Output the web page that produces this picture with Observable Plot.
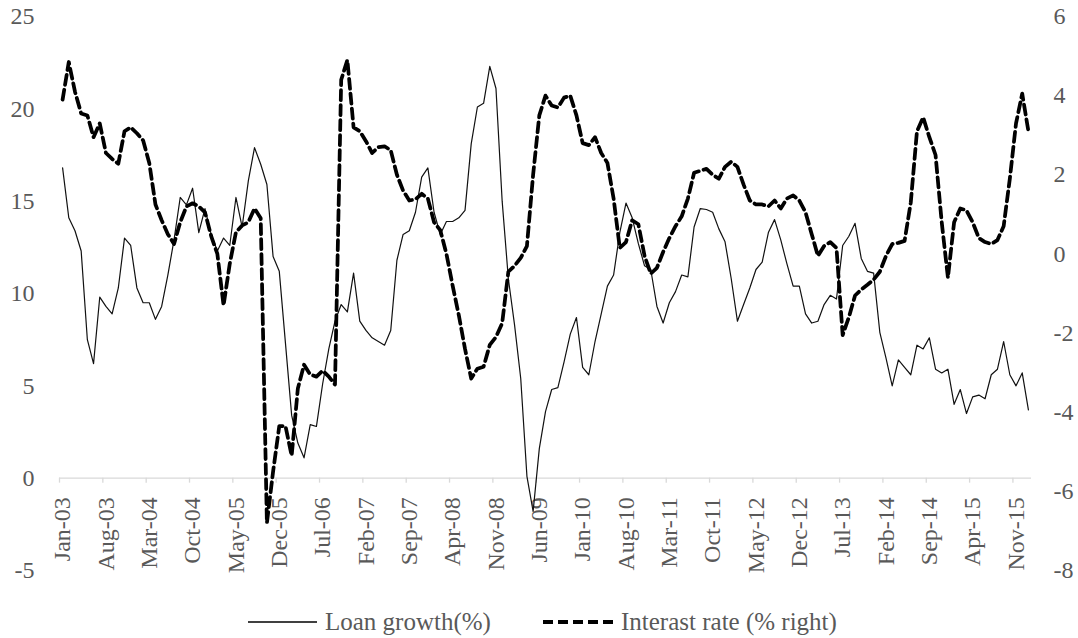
<!DOCTYPE html>
<html>
<head>
<meta charset="utf-8">
<script src="https://cdn.jsdelivr.net/npm/d3@7"></script>
<script src="https://cdn.jsdelivr.net/npm/@observablehq/plot@0.6"></script>
<style>
  body { margin: 0; background: #fff; }
  #wrap { position: relative; width: 1078px; height: 638px; font-family: "Liberation Serif", serif; color: #595959; }
  .leg { position: absolute; top: 604px; height: 36px; display: flex; align-items: center; font-size: 25px; color: #595959; white-space: nowrap; }
  .leg span { margin-left: 8px; }
</style>
</head>
<body>
<div id="wrap"></div>
<script>
// Tick labels every 7 months (category axis, monthly data Jan-03 .. Jan-16)
const tickLabels = ["Jan-03","Aug-03","Mar-04","Oct-04","May-05","Dec-05","Jul-06","Feb-07","Sep-07","Apr-08","Nov-08","Jun-09","Jan-10","Aug-10","Mar-11","Oct-11","May-12","Dec-12","Jul-13","Feb-14","Sep-14","Apr-15","Nov-15"];
const tickStep = 7;

// Loan growth (%), left axis
const loanGrowth = [
  16.8,14.1,13.4,12.3,7.5,6.2,9.8,9.3,8.9,10.3,13.0,12.6,10.3,9.5,9.5,8.6,9.3,11.0,12.9,15.2,
  14.8,15.7,13.3,14.6,13.2,12.3,13.0,12.6,15.2,13.6,16.1,17.9,17.0,15.9,12.0,11.2,7.3,3.4,1.9,1.1,
  2.9,2.8,5.1,7.0,8.5,9.4,9.0,11.1,8.5,8.0,7.6,7.4,7.2,8.0,11.8,13.2,13.4,14.4,16.3,16.8,
  14.4,13.2,13.9,13.9,14.1,14.5,18.1,20.1,20.3,22.3,21.1,15.0,10.8,8.3,5.4,0.1,-1.8,1.6,3.6,4.8,
  4.9,6.3,7.8,8.7,6.0,5.6,7.4,8.9,10.4,11.0,13.3,14.9,14.1,12.7,11.5,11.3,9.3,8.4,9.5,10.1,
  11.0,10.9,13.6,14.6,14.55,14.4,13.5,12.8,10.8,8.5,9.4,10.3,11.3,11.7,13.3,14.0,12.9,11.6,10.4,10.4,
  8.9,8.4,8.5,9.4,9.9,9.7,12.6,13.1,13.8,11.9,11.2,11.1,7.9,6.5,5.0,6.4,6.0,5.6,7.2,7.0,
  7.6,5.9,5.7,5.9,4.0,4.8,3.5,4.4,4.5,4.3,5.6,5.9,7.4,5.6,5.0,5.7,3.7
];

// Interest rate (%), right axis
const interestRate = [
  3.9,4.85,4.1,3.55,3.5,2.95,3.3,2.55,2.4,2.28,3.1,3.2,3.05,2.87,2.3,1.25,0.85,0.5,0.25,0.8,
  1.2,1.28,1.2,1.05,0.45,0.0,-1.3,-0.25,0.55,0.72,0.8,1.15,0.9,-6.8,-5.5,-4.35,-4.35,-5.1,-3.4,-2.8,
  -3.05,-3.1,-2.95,-3.1,-3.3,4.4,4.9,3.2,3.1,2.85,2.55,2.7,2.72,2.62,2.0,1.6,1.35,1.38,1.52,1.4,
  0.8,0.6,0.0,-0.8,-1.55,-2.4,-3.15,-2.9,-2.85,-2.3,-2.1,-1.75,-0.45,-0.3,-0.1,0.2,2.0,3.5,4.0,3.75,
  3.7,3.95,4.0,3.5,2.8,2.75,2.95,2.55,2.3,1.4,0.15,0.3,0.85,0.75,-0.05,-0.5,-0.35,0.05,0.4,0.7,
  0.95,1.4,2.05,2.1,2.15,2.0,1.9,2.2,2.33,2.2,1.75,1.35,1.25,1.25,1.2,1.35,1.15,1.4,1.48,1.35,
  1.05,0.5,-0.05,0.2,0.3,0.15,-2.05,-1.6,-1.05,-0.9,-0.78,-0.65,-0.45,-0.05,0.25,0.28,0.33,1.3,3.1,3.45,
  2.95,2.5,0.8,-0.6,0.8,1.15,1.1,0.8,0.4,0.3,0.25,0.35,0.7,1.9,3.3,4.05,3.1
];

const seriesNames = ["Loan growth(%)", "Interast rate (% right)"];
const leftTicks = [-5, 0, 5, 10, 15, 20, 25];
const rightTicks = [-8, -6, -4, -2, 0, 2, 4, 6];

const L = [-5, 25], R = [-8, 6];
const toLeft = r => (r - R[0]) / (R[1] - R[0]) * (L[1] - L[0]) + L[0];
const toRight = v => (v - L[0]) / (L[1] - L[0]) * (R[1] - R[0]) + R[0];

const n = loanGrowth.length;
const loanData = loanGrowth.map((v, i) => ({m: i + 0.5, v}));
const rateData = interestRate.map((r, i) => ({m: i + 0.5, v: toLeft(r)}));
const ticks = tickLabels.map((label, k) => ({k: k * tickStep, label}));

const grey = "#d9d9d9";

const chart = Plot.plot({
  width: 1078,
  height: 600,
  marginLeft: 59,
  marginRight: 47,
  marginTop: 16,
  marginBottom: 30,
  style: {fontFamily: '"Liberation Serif", serif', fontSize: "24px", color: "#595959", background: "#fff", overflow: "visible"},
  x: {type: "linear", domain: [0, n], axis: null},
  y: {domain: L, axis: null},
  marks: [
    Plot.ruleY([0], {x1: 0, x2: n, stroke: grey, strokeWidth: 1.3}),
    Plot.ruleX(ticks, {x: "k", y1: 0, y2: 0, insetBottom: -5, stroke: grey, strokeWidth: 1.3}),
    Plot.text(ticks, {x: d => d.k + 0.5, y: 0, text: "label", rotate: -90, textAnchor: "end", dy: 19, fill: "#595959", fontSize: 24}),
    Plot.axisY(leftTicks, {anchor: "left", label: null, tickSize: 0, tickPadding: 25, fontSize: 24, tickFormat: d => String(d)}),
    Plot.axisY(rightTicks.map(toLeft), {anchor: "right", label: null, tickSize: 0, tickPadding: 22, fontSize: 24, tickFormat: d => String(Math.round(toRight(d)))}),
    Plot.line(loanData, {x: "m", y: "v", stroke: "#111", strokeWidth: 1.2}),
    Plot.line(rateData, {x: "m", y: "v", stroke: "#000", strokeWidth: 3.75, strokeDasharray: "10,5"})
  ]
});

const wrap = document.getElementById("wrap");
wrap.appendChild(chart);

// Legend below the chart
const legendItems = [
  {name: seriesNames[0], left: 248, width: 69, sw: 1.5, dash: null},
  {name: seriesNames[1], left: 543, width: 70, sw: 4, dash: "10,5"}
];
for (const it of legendItems) {
  const div = document.createElement("div");
  div.className = "leg";
  div.style.left = it.left + "px";
  div.innerHTML = `<svg width="${it.width}" height="10"><line x1="0" x2="${it.width}" y1="5" y2="5" stroke="#000" stroke-width="${it.sw}" ${it.dash ? `stroke-dasharray="${it.dash}"` : ""}/></svg><span>${it.name}</span>`;
  wrap.appendChild(div);
}
</script>
</body>
</html>
